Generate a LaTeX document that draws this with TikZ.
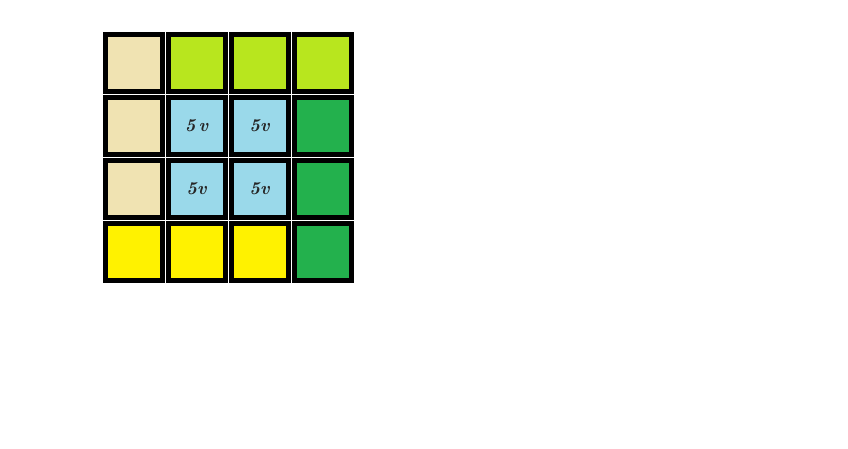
\documentclass[tikz,border=0pt]{standalone}
\definecolor{sand}{HTML}{F0E3B2}
\definecolor{lime}{HTML}{B8E61E}
\definecolor{sky}{HTML}{9AD9EA}
\definecolor{leaf}{HTML}{23B14D}
\definecolor{sun}{HTML}{FFF200}
\begin{document}
\begin{tikzpicture}[x=1pt,y=-1pt]
        \tikzset{cell/.style={draw=black,line width=5pt,minimum size=57pt,inner sep=0pt,
            font=\fontsize{18}{18}\selectfont\bfseries\itshape,text=black!85}}
        \fill[white] (0,0) rectangle (848,448);
        \useasboundingbox (0,0) rectangle (848,448);
        \foreach \row/\col/\shade/\txt in {1/1/sand/,1/2/lime/,1/3/lime/,1/4/lime/,
                2/1/sand/,2/2/sky/{5\,v},2/3/sky/5v,2/4/leaf/,
                3/1/sand/,3/2/sky/5v,3/3/sky/5v,3/4/leaf/,
                4/1/sun/,4/2/sun/,4/3/sun/,4/4/leaf/}
            \node[cell,fill=\shade] (c\row\col) at (70.5+63*\col,63*\row) {\txt};
\end{tikzpicture}
\end{document}
